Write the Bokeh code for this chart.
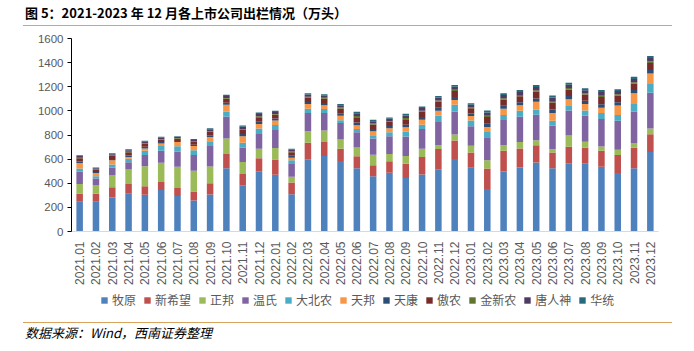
import math
from bokeh.plotting import figure
from bokeh.layouts import column
from bokeh.models import (Range1d, FactorRange, FixedTicker, Legend, LegendItem,
                          ColumnDataSource, Div)
from bokeh.embed import file_html
from bokeh.resources import INLINE

months = ["2021.01", "2021.02", "2021.03", "2021.04", "2021.05", "2021.06",
          "2021.07", "2021.08", "2021.09", "2021.10", "2021.11", "2021.12",
          "2022.01", "2022.02", "2022.03", "2022.04", "2022.05", "2022.06",
          "2022.07", "2022.08", "2022.09", "2022.10", "2022.11", "2022.12",
          "2023.01", "2023.02", "2023.03", "2023.04", "2023.05", "2023.06",
          "2023.07", "2023.08", "2023.09", "2023.10", "2023.11", "2023.12"]

muyuan = [246, 246, 282, 312, 304, 345, 295, 256, 306, 524, 383, 500,
          470, 309, 599, 626, 585, 525, 457, 487, 443, 473, 517, 602,
          528, 353, 498, 530, 572, 525, 566, 566, 536, 484, 525, 659]
xinxiwang = [66, 66, 84, 82, 71, 65, 66, 75, 93, 119, 93, 107,
             126, 98, 137, 115, 101, 98, 93, 95, 118, 145, 167, 153,
             126, 169, 172, 159, 144, 129, 137, 129, 134, 150, 170, 148]
zhengbang = [82, 74, 102, 120, 166, 159, 175, 172, 140, 128, 101, 79,
             96, 47, 95, 96, 77, 74, 87, 61, 65, 68, 30, 49,
             57, 68, 46, 52, 41, 27, 93, 49, 35, 44, 38, 46]
wenshi = [101, 54, 60, 60, 93, 101, 126, 131, 169, 181, 118, 123,
          150, 112, 151, 145, 137, 126, 134, 147, 162, 164, 194, 191,
          161, 192, 208, 210, 211, 197, 208, 216, 227, 241, 262, 298]
dabeinong = [27, 17, 27, 30, 36, 38, 44, 39, 41, 43, 41, 44,
             41, 25, 35, 33, 22, 27, 27, 33, 38, 36, 52, 55,
             49, 49, 41, 50, 44, 41, 43, 44, 50, 46, 63, 71]
tianbang = [46, 27, 36, 14, 19, 22, 35, 36, 35, 55, 54, 38,
            38, 21, 39, 32, 38, 30, 33, 33, 38, 41, 41, 41,
            36, 36, 52, 46, 63, 63, 50, 54, 43, 80, 88, 88]
tiankang = [13, 9, 11, 13, 13, 11, 10, 11, 14, 17, 18, 19,
            16, 15, 18, 18, 20, 23, 19, 18, 22, 22, 25, 25,
            21, 27, 26, 25, 28, 29, 27, 26, 30, 27, 27, 29]
aonong = [26, 18, 23, 25, 25, 22, 20, 23, 29, 33, 35, 38,
          32, 30, 36, 36, 39, 45, 38, 36, 45, 44, 49, 49,
          43, 55, 52, 50, 56, 58, 54, 52, 59, 54, 54, 58]
jinxinnong = [5, 4, 5, 5, 5, 4, 4, 5, 6, 7, 7, 8,
              6, 6, 7, 7, 8, 9, 8, 7, 9, 9, 10, 10,
              9, 11, 10, 10, 11, 12, 11, 10, 12, 11, 11, 12]
tangrenshen = [13, 9, 11, 13, 13, 11, 10, 11, 14, 17, 18, 19,
               16, 15, 18, 18, 20, 23, 19, 18, 22, 22, 25, 25,
               21, 27, 26, 25, 28, 29, 27, 26, 30, 27, 27, 29]
huatong = [7, 6, 7, 7, 7, 7, 5, 7, 9, 9, 10, 12,
           10, 8, 11, 12, 11, 13, 12, 11, 14, 12, 14, 14,
           13, 17, 15, 16, 16, 17, 17, 15, 17, 15, 17, 17]

series_names = ["牧原", "新希望", "正邦", "温氏", "大北农", "天邦", "天康",
                "傲农", "金新农", "唐人神", "华统"]
series_values = [muyuan, xinxiwang, zhengbang, wenshi, dabeinong, tianbang,
                 tiankang, aonong, jinxinnong, tangrenshen, huatong]
colors = ["#4F81BD", "#C0504D", "#9BBB59", "#8064A2", "#4BACC6", "#F79646",
          "#2C4D75", "#772C2A", "#5F7530", "#4D3B62", "#276A7C"]
y_ticks = [0, 200, 400, 600, 800, 1000, 1200, 1400, 1600]

title_text = "图 5：2021-2023 年 12 月各上市公司出栏情况（万头）"
source_text = "数据来源：Wind，西南证券整理"
rule_color = "#D8A35C"

data = {"month": months}
for n, v in zip(series_names, series_values):
    data[n] = v
src = ColumnDataSource(data)

# ---- main chart ----
p = figure(width=694, height=259, x_range=FactorRange(*months),
           y_range=Range1d(0, 1600), output_backend="svg",
           toolbar_location=None, min_border_left=71, min_border_right=36,
           min_border_top=10, min_border_bottom=54, margin=0)
p.outline_line_color = None
p.xgrid.visible = False
p.ygrid.visible = False

renderers = p.vbar_stack(series_names, x="month", width=0.4, color=colors,
                         line_color=None, source=src)

p.yaxis.ticker = FixedTicker(ticks=y_ticks)
p.yaxis.axis_line_color = "#000000"
p.yaxis.major_tick_line_color = "#000000"
p.yaxis.major_tick_in = 0
p.yaxis.major_tick_out = 4
p.yaxis.minor_tick_line_color = None
p.yaxis.major_label_text_font = "Liberation Sans"
p.yaxis.major_label_text_font_size = "11.5px"
p.yaxis.major_label_text_color = "#595959"
p.yaxis.major_label_standoff = 4

p.xaxis.axis_line_color = "#D9D9D9"
p.xaxis.major_tick_line_color = None
p.xaxis.minor_tick_line_color = None
p.xaxis.major_label_orientation = math.pi / 2
p.xaxis.major_label_text_font = "Liberation Sans"
p.xaxis.major_label_text_font_size = "12px"
p.xaxis.major_label_text_color = "#595959"
p.xaxis.major_label_standoff = 4

# ---- legend strip: same stacked series as zero-width (invisible) bars ----
lg = figure(width=694, height=31, x_range=FactorRange(*months),
            y_range=Range1d(0, 1600),
            output_backend="svg", toolbar_location=None,
            x_axis_location=None, y_axis_location=None,
            min_border_left=71, min_border_right=36,
            min_border_top=0, min_border_bottom=0, margin=0)
lg.outline_line_color = None
lg.xgrid.visible = False
lg.ygrid.visible = False
swatches = lg.vbar_stack(series_names, x="month", width=0.0, color=colors,
                         line_color=None, source=src)
legend = Legend(items=[LegendItem(label=n, renderers=[r])
                       for n, r in zip(series_names, swatches)],
                orientation="horizontal", location=(29, 10),
                glyph_width=8, glyph_height=8, label_standoff=4, spacing=7,
                padding=0, margin=0, border_line_color=None,
                background_fill_alpha=0, label_text_font="Noto Sans CJK SC",
                label_text_font_size="12px", label_text_color="#595959",
                label_height=14)
lg.add_layout(legend, "center")

title_html = (
    '<div style="position:relative;width:694px;height:28px;">'
    '<div style="position:absolute;left:25px;top:5px;white-space:nowrap;'
    'font-family:\'Noto Sans CJK SC\';font-weight:bold;font-size:13px;'
    'line-height:15px;color:#000;">' + title_text + '</div>'
    '<div style="position:absolute;left:23px;top:25px;width:649px;height:1px;'
    'background:' + rule_color + ';"></div></div>')
footer_html = (
    '<div style="position:relative;width:694px;height:33px;">'
    '<div style="position:absolute;left:23px;top:4px;width:649px;height:1px;'
    'background:' + rule_color + ';"></div>'
    '<div style="position:absolute;left:25px;top:7px;white-space:nowrap;'
    'font-family:\'Noto Sans CJK SC\';font-style:italic;font-size:13px;'
    'line-height:15px;color:#000;">' + source_text + '</div></div>')

title_div = Div(text=title_html, width=694, height=28, margin=0)
footer_div = Div(text=footer_html, width=694, height=33, margin=0)

layout = column(title_div, p, lg, footer_div, spacing=0, margin=0)

open("out.html", "w").write(file_html(layout, INLINE))
